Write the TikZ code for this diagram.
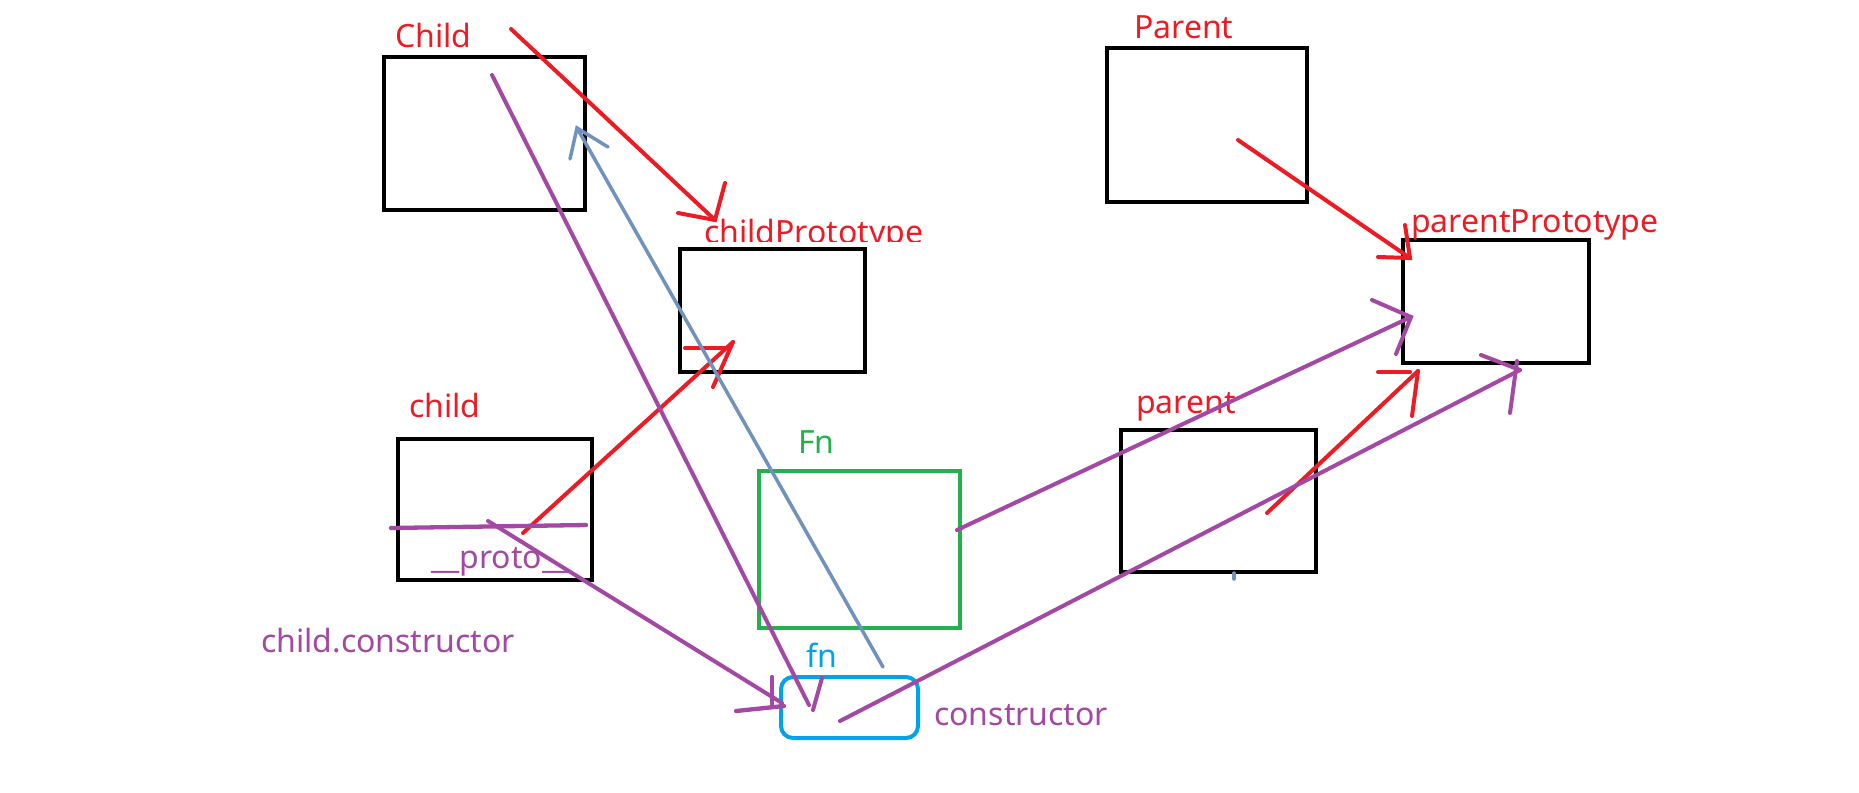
\documentclass[tikz,border=0pt]{standalone}
\usepackage{fontspec}
\setmainfont{Noto Sans}
\definecolor{pred}{RGB}{237,28,36}
\definecolor{ppurple}{RGB}{163,73,164}
\definecolor{pgreen}{RGB}{34,177,76}
\definecolor{pblue}{RGB}{0,162,232}
\definecolor{pgray}{RGB}{112,146,190}
\tikzset{
  box/.style={draw=black, line width=4.5pt, inner sep=0pt, outer sep=0pt, anchor=north west},
  lbl/.style={anchor=base west, inner sep=0pt, font=\fontsize{32}{38}\selectfont},
  redl/.style={draw=pred, line width=4pt, line cap=round},
  purl/.style={draw=ppurple, line width=4pt, line cap=round},
  grayl/.style={draw=pgray, line width=3.5pt, line cap=round},
}
\begin{document}
\begin{tikzpicture}[x=1pt,y=-1pt]
\useasboundingbox (0,0) rectangle (1859,792);
\fill[white] (0,0) rectangle (1859,792);
% boxes
\node[box, minimum width=201pt, minimum height=153pt] (Child) at (384,57) {};
\node[box, minimum width=185pt, minimum height=123pt] (childProto) at (680,249) {};
\node[box, minimum width=200pt, minimum height=154pt] (Parent) at (1107,48) {};
\node[box, minimum width=186pt, minimum height=123pt] (parentProto) at (1403,240) {};
\node[box, minimum width=194pt, minimum height=141pt] (child) at (398,439) {};
\node[box, draw=pgreen, line width=4pt, minimum width=201pt, minimum height=157pt] (Fn) at (759,471) {};
\node[box, minimum width=195pt, minimum height=142pt] (parent) at (1121,430) {};
\node[box, draw=pblue, line width=4pt, rounded corners=12pt, minimum width=137pt, minimum height=61pt] (fn) at (781,677) {};
% labels
\node[lbl, text=pred] (tChild) at (395,48) {Child};
\begin{scope}
\clip (690,195) rectangle (960,241);
\node[lbl, text=pred] (tchildProto) at (704,243) {childPrototype};
\end{scope}
\node[lbl, text=pred] (tParent) at (1134,38) {Parent};
\node[lbl, text=pred] (tparentProto) at (1411,232) {parentPrototype};
\node[lbl, text=pred] (tchild) at (409,417) {child};
\node[lbl, text=ppurple] (tproto) at (431,568) {\_\_proto\_\_};
\node[lbl, text=pgreen] (tFn) at (798,453) {Fn};
\node[lbl, text=pred] (tparent) at (1136,413) {parent};
\node[lbl, text=ppurple] (tcc) at (261,652) {child.constructor};
\node[lbl, text=pblue] (tfn) at (806,667) {fn};
\node[lbl, text=ppurple] (tcons) at (934,725) {constructor};
% coordinates
\coordinate (a1s) at (511,29);   \coordinate (a1t) at (715,220);
\coordinate (a2s) at (1238,140); \coordinate (a2t) at (1410,258);
\coordinate (a3s) at (523,533);  \coordinate (a3t) at (733,342);
\coordinate (a4s) at (1267,513); \coordinate (a4t) at (1418,371);
\coordinate (h1) at (391,528);   \coordinate (h2) at (586,525);
\coordinate (a6s) at (488,521);  \coordinate (a6t) at (782,703);
\coordinate (a7s) at (492,75);   \coordinate (a7t) at (809,705);
\coordinate (a8s) at (883,667);  \coordinate (a8t) at (577,128);
\coordinate (a9s) at (957,530);  \coordinate (a9t) at (1411,317);
\coordinate (a10s) at (840,721); \coordinate (a10t) at (1520,370);
% red connectors
\draw[redl] (a1s) -- (a1t);
\draw[redl] (678,213) -- (a1t) -- (725,183);
\draw[redl] (a2s) -- (a2t);
\draw[redl] (1378,257) -- (a2t) -- (1405,225);
\draw[redl] (a3s) -- (a3t);
\draw[redl] (685,348) -- (729,348);
\draw[redl] (713,387) -- (a3t);
\draw[redl] (a4s) -- (a4t);
\draw[redl] (1378,372) -- (1410,372);
\draw[redl] (1412,416) -- (a4t);
% purple connectors
\draw[purl, line width=4.3pt] (h1) -- (h2);
\draw[purl] (a6s) -- (a6t);
\draw[purl, line width=4.3pt] (772,677) -- (772,705);
\draw[purl, line width=4.3pt] (736,711) -- (784,706);
\draw[purl] (a7s) -- (a7t);
\draw[purl] (822,678) -- (813,710);
\draw[purl] (a9s) -- (a9t);
\draw[purl] (1372,300) -- (a9t) -- (1396,354);
\draw[purl] (a10s) -- (a10t);
\draw[purl] (1481,355) -- (a10t);
\draw[purl] (1517,361) -- (1510,413);
% gray-blue connector
\draw[grayl] (a8s) -- (a8t);
\draw[grayl] (570,159) -- (a8t) -- (608,147);
\draw[grayl] (1234,573) -- (1234,579);
\end{tikzpicture}
\end{document}
